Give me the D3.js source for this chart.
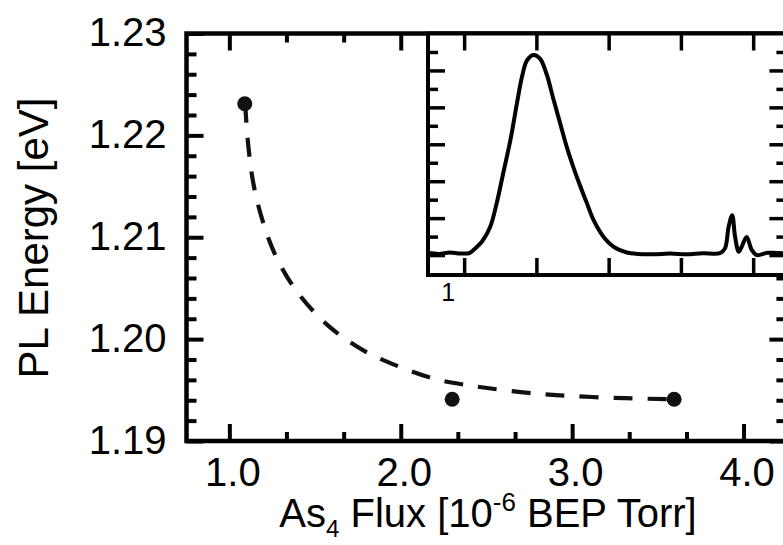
<!DOCTYPE html>
<html>
<head>
<meta charset="utf-8">
<script src="https://cdn.jsdelivr.net/npm/d3@7"></script>
<style>
  body { margin: 0; background: #fff; }
  svg { display: block; font-family: Arial, 'Liberation Sans', sans-serif; }
</style>
</head>
<body>
<svg></svg>
<script>
// main plot: PL peak energy vs As4 flux
const fluxValues = [1.09, 2.30, 3.595];
const plEnergy = [1.2231, 1.1941, 1.1941];

// dashed guide curve
const fitFlux = [1.092, 1.111, 1.140, 1.189, 1.267, 1.393, 1.578, 1.792, 2.006, 2.219, 2.422, 2.649, 2.906, 3.309, 3.595];
const fitEnergy = [1.2231, 1.2189, 1.2153, 1.2119, 1.2083, 1.2047, 1.2013, 1.1988, 1.1972, 1.1960, 1.1954, 1.1949, 1.1945, 1.1942, 1.1941];

const xMajor = [1, 2, 3, 4];
const xMinor = [1.333, 1.667, 2.333, 2.667, 3.333, 3.667];
const yMajor = [1.19, 1.20, 1.21, 1.22, 1.23];
const yMinor = [1.192, 1.194, 1.196, 1.198, 1.202, 1.204, 1.206, 1.208, 1.212, 1.214, 1.216, 1.218, 1.222, 1.224, 1.226, 1.228];

// inset: PL spectrum
const specEnergy = [0.950, 0.965, 0.980, 0.995, 1.008, 1.013, 1.0245, 1.036, 1.045, 1.054, 1.064, 1.073, 1.080, 1.087, 1.096,
    1.105, 1.114, 1.124, 1.133, 1.142, 1.151, 1.161, 1.170, 1.179, 1.193, 1.207, 1.225, 1.240, 1.262, 1.285, 1.308,
    1.330, 1.354, 1.361, 1.366, 1.371, 1.375, 1.380, 1.384, 1.391, 1.398, 1.405, 1.420, 1.442];
const specIntensity = [0.06, 0.03, 0.07, 0.04, 0.06, 0.14, 0.36, 0.76, 1.40, 2.21, 3.11, 4.10, 4.82, 5.27, 5.42,
    5.32, 4.91, 4.19, 3.56, 2.93, 2.39, 1.85, 1.40, 0.95, 0.49, 0.22, 0.07, 0.03, 0.02, 0.04, 0.02,
    0.05, 0.05, 0.18, 0.76, 1.08, 0.49, 0.09, 0.22, 0.49, 0.14, 0.00, 0.06, 0.05];
const insetXTicks = [1.0, 1.1, 1.2, 1.3, 1.4];
const insetYLong = [0, 1, 2, 3, 4, 5];
const insetYShort = [0.5, 1.5, 2.5, 3.5, 4.5, 5.5];

const size = {w: 783, h: 545};
const frame = {l: 186.5, r: 786.4, t: 33.5, b: 441};
const inset = {l: 428, r: 786.4, t: 33.5, b: 275};

const svg = d3.select('svg')
    .attr('width', size.w)
    .attr('height', size.h);

const x = d3.scaleLinear().domain([0.75, 4.25]).range([frame.l, frame.r]);
const y = d3.scaleLinear().domain([1.19, 1.23]).range([frame.b, frame.t]);

function styleAxis(g, w) {
    g.select('.domain').remove();
    g.selectAll('line').attr('stroke', '#000').attr('stroke-width', w);
    g.selectAll('text').attr('fill', '#000').attr('font-size', 40);
}

// main axes (ticks inward)
svg.append('g').attr('transform', `translate(0,${frame.b})`)
    .call(d3.axisBottom(x).tickValues(xMajor).tickSize(-17).tickPadding(17).tickFormat(d3.format('.1f')))
    .call(g => styleAxis(g, 4))
    .call(g => g.selectAll('text').attr('dx', 3));
svg.append('g').attr('transform', `translate(0,${frame.b})`)
    .call(d3.axisBottom(x).tickValues(xMinor).tickSize(-9).tickFormat(''))
    .call(g => styleAxis(g, 4));
svg.append('g').attr('transform', `translate(0,${frame.t})`)
    .call(d3.axisTop(x).tickValues(xMajor).tickSize(-17).tickFormat(''))
    .call(g => styleAxis(g, 4));
svg.append('g').attr('transform', `translate(0,${frame.t})`)
    .call(d3.axisTop(x).tickValues(xMinor).tickSize(-9).tickFormat(''))
    .call(g => styleAxis(g, 4));

svg.append('g').attr('transform', `translate(${frame.l},0)`)
    .call(d3.axisLeft(y).tickValues(yMajor).tickSize(-17).tickPadding(20).tickFormat(d3.format('.2f')))
    .call(g => styleAxis(g, 4))
    .call(g => g.selectAll('text').attr('dy', '0.3em'));
svg.append('g').attr('transform', `translate(${frame.l},0)`)
    .call(d3.axisLeft(y).tickValues(yMinor).tickSize(-10).tickFormat(''))
    .call(g => styleAxis(g, 4));
svg.append('g').attr('transform', `translate(${frame.r},0)`)
    .call(d3.axisRight(y).tickValues(yMajor).tickSize(-17).tickFormat(''))
    .call(g => styleAxis(g, 4));
svg.append('g').attr('transform', `translate(${frame.r},0)`)
    .call(d3.axisRight(y).tickValues(yMinor).tickSize(-10).tickFormat(''))
    .call(g => styleAxis(g, 4));

svg.append('rect')
    .attr('x', frame.l).attr('y', frame.t)
    .attr('width', frame.r - frame.l).attr('height', frame.b - frame.t)
    .attr('fill', 'none').attr('stroke', '#000').attr('stroke-width', 4.5);

// dashed curve + points
const fit = fitFlux.map((d, i) => ({x: d, y: fitEnergy[i]}));
svg.append('path')
    .datum(fit)
    .attr('fill', 'none')
    .attr('stroke', '#111')
    .attr('stroke-width', 4.2)
    .attr('stroke-dasharray', '19,15')
    .attr('d', d3.line().x(d => x(d.x)).y(d => y(d.y)).curve(d3.curveCatmullRom));

svg.selectAll('circle.pt')
    .data(fluxValues.map((d, i) => ({x: d, y: plEnergy[i]})))
    .join('circle')
    .attr('class', 'pt')
    .attr('cx', d => x(d.x))
    .attr('cy', d => y(d.y))
    .attr('r', 7.5)
    .attr('fill', '#111');

// inset
const ix = d3.scaleLinear().domain([0.95, 1.446]).range([inset.l, inset.r]);
const iy = d3.scaleLinear().domain([-0.54, 6.0]).range([inset.b, inset.t]);

const insetG = svg.append('g');
insetG.append('rect')
    .attr('x', inset.l).attr('y', inset.t)
    .attr('width', inset.r - inset.l).attr('height', inset.b - inset.t)
    .attr('fill', '#fff');

insetG.append('g').attr('transform', `translate(0,${inset.b})`)
    .call(d3.axisBottom(ix).tickValues(insetXTicks).tickSize(-17).tickFormat(''))
    .call(g => styleAxis(g, 3.5));
insetG.append('g').attr('transform', `translate(0,${inset.t})`)
    .call(d3.axisTop(ix).tickValues(insetXTicks).tickSize(-17).tickFormat(''))
    .call(g => styleAxis(g, 3.5));
insetG.append('g').attr('transform', `translate(${inset.l},0)`)
    .call(d3.axisLeft(iy).tickValues(insetYLong).tickSize(-17).tickFormat(''))
    .call(g => styleAxis(g, 3.5));
insetG.append('g').attr('transform', `translate(${inset.l},0)`)
    .call(d3.axisLeft(iy).tickValues(insetYShort).tickSize(-10).tickFormat(''))
    .call(g => styleAxis(g, 3.5));
insetG.append('g').attr('transform', `translate(${inset.r},0)`)
    .call(d3.axisRight(iy).tickValues(insetYLong).tickSize(-17).tickFormat(''))
    .call(g => styleAxis(g, 3.5));
insetG.append('g').attr('transform', `translate(${inset.r},0)`)
    .call(d3.axisRight(iy).tickValues(insetYShort).tickSize(-10).tickFormat(''))
    .call(g => styleAxis(g, 3.5));

insetG.append('path')
    .datum(specEnergy.map((d, i) => ({x: d, y: specIntensity[i]})))
    .attr('fill', 'none')
    .attr('stroke', '#000')
    .attr('stroke-width', 4)
    .attr('stroke-linejoin', 'round')
    .attr('d', d3.line().x(d => ix(d.x)).y(d => iy(d.y)).curve(d3.curveCatmullRom));

insetG.append('rect')
    .attr('x', inset.l).attr('y', inset.t)
    .attr('width', inset.r - inset.l).attr('height', inset.b - inset.t)
    .attr('fill', 'none').attr('stroke', '#000').attr('stroke-width', 4);

insetG.append('text')
    .attr('x', ix(1.0) - 16)
    .attr('y', 301)
    .attr('text-anchor', 'middle')
    .attr('font-size', 25)
    .text('1');

// axis titles
const xTitle = svg.append('text')
    .attr('x', 488)
    .attr('y', 527)
    .attr('text-anchor', 'middle')
    .attr('font-size', 40);
xTitle.append('tspan').text('As');
xTitle.append('tspan').attr('font-size', 24).attr('dy', 10).text('4');
xTitle.append('tspan').attr('dy', -10).text(' Flux [10');
xTitle.append('tspan').attr('font-size', 26).attr('dy', -16).text('-6');
xTitle.append('tspan').attr('dy', 16).text(' BEP Torr]');

svg.append('text')
    .attr('transform', 'translate(48,238) rotate(-90)')
    .attr('text-anchor', 'middle')
    .attr('font-size', 42)
    .text('PL Energy [eV]');
</script>
</body>
</html>
